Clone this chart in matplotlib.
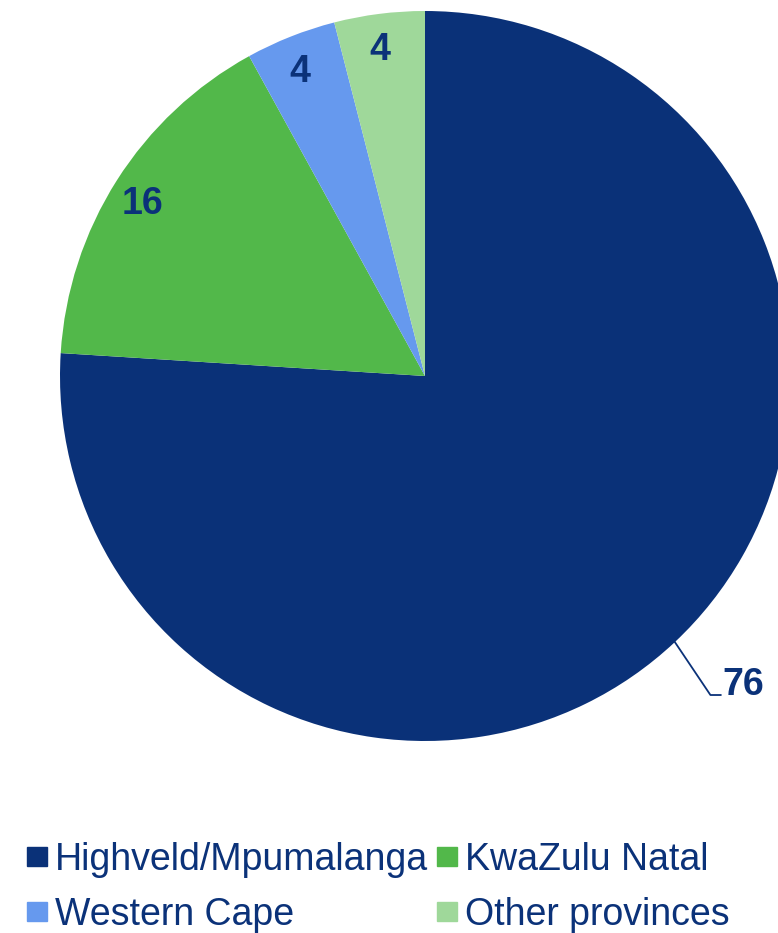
import numpy as np
import matplotlib
matplotlib.use("Agg")
import matplotlib.pyplot as plt

plt.rcParams['font.family'] = ['Liberation Sans', 'DejaVu Sans']

# Share by region (%)
regions = ["Highveld/Mpumalanga", "KwaZulu Natal", "Western Cape", "Other provinces"]
shares = [76, 16, 4, 4]
colours = ["#0a3178", "#52b84a", "#6699ee", "#9fd89a"]
navy = "#0b3279"

W, H = 778, 933
fig = plt.figure(figsize=(W / 100, H / 100), dpi=100)

# pie axis box in pixels: centre (425, 376), radius 365
cx, cy, r = 425, 376, 365
ax = fig.add_axes([(cx - r) / W, (H - cy - r) / H, 2 * r / W, 2 * r / H])
wedges, _ = ax.pie(shares, colors=colours, startangle=90, counterclock=False,
                   radius=1, wedgeprops=dict(linewidth=0))
ax.set_xlim(-1, 1)
ax.set_ylim(-1, 1)
ax.set_aspect('equal')
ax.axis('off')

# values inside the small slices (baseline shifted down by half the digit height)
for w, v in list(zip(wedges, shares))[1:]:
    ang = np.deg2rad((w.theta1 + w.theta2) / 2 + 0.6)
    ax.annotate(str(v), xy=(0.91 * np.cos(ang), 0.91 * np.sin(ang)),
                xytext=(0, -9.7), textcoords='offset points', ha='center', va='baseline',
                fontsize=27, fontweight='bold', color=navy)

# big slice gets an outside label with a leader line
w = wedges[0]
ang = np.deg2rad((w.theta1 + w.theta2) / 2)
x0, y0 = np.cos(ang), np.sin(ang)
ax.plot([x0, 0.782, 0.81], [y0, -0.874, -0.874], color=navy, lw=1.3, clip_on=False)
ax.text(0.815, -0.874, str(shares[0]), ha='left', va='baseline',
        fontsize=27, fontweight='bold', color=navy, clip_on=False)

# legend reads row by row, so interleave for matplotlib's column filling
order = [0, 2, 1, 3]
handles = [plt.Rectangle((0, 0), 1, 1, color=colours[i]) for i in order]
labels = [regions[i] for i in order]
leg = fig.legend(handles, labels, loc='upper left', bbox_to_anchor=(27 / W, 1 - 842 / H),
                 ncol=2, frameon=False, fontsize=27, handlelength=0.52, handleheight=0.42,
                 handletextpad=0.22, columnspacing=0.25, labelspacing=0.5, borderpad=0,
                 borderaxespad=0)
for t in leg.get_texts():
    t.set_color(navy)

fig.savefig("out.png", dpi=100)
